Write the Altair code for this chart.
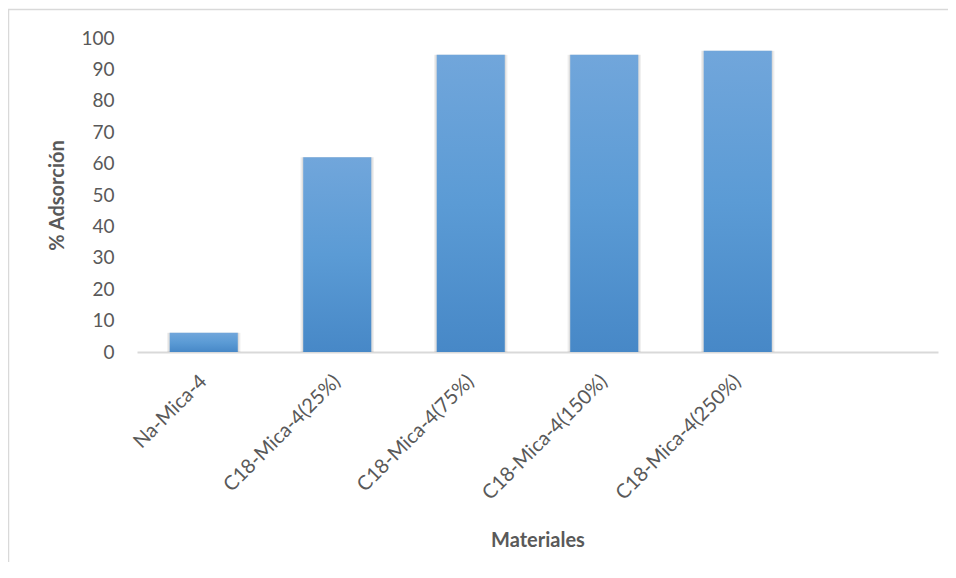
import altair as alt
import pandas as pd

categories = ["Na-Mica-4", "C18-Mica-4(25%)", "C18-Mica-4(75%)", "C18-Mica-4(150%)", "C18-Mica-4(250%)"]
values = [6.1, 62.0, 94.7, 94.7, 95.9]
domain = categories + [" "]
y_ticks = [0, 10, 20, 30, 40, 50, 60, 70, 80, 90, 100]

df = pd.DataFrame({"Materiales": categories, "Adsorcion": values})

W, H = 801, 314
FONT = "Lato"
GREY = "#595959"

x_enc = alt.X(
    "Materiales:N",
    scale=alt.Scale(domain=domain, paddingInner=0.49, paddingOuter=0.245),
    sort=domain,
    axis=alt.Axis(
        title="Materiales",
        titleFont=FONT, titleFontSize=20, titleFontWeight="bold", titleColor=GREY,
        titleY=188, titleBaseline="middle",
        labelAngle=-45, labelAlign="right", labelBaseline="middle",
        labelFont=FONT, labelFontSize=20, labelColor=GREY, labelPadding=26,
        ticks=False, grid=False,
        domainColor="#d9d9d9", domainWidth=2, zindex=0,
    ),
)
y_enc = alt.Y(
    "Adsorcion:Q",
    scale=alt.Scale(domain=[0, 100], nice=False),
    axis=alt.Axis(
        title="% Adsorción",
        titleFont=FONT, titleFontSize=20, titleFontWeight="bold", titleColor=GREY,
        titleX=-80, titleY=H / 2, titleBaseline="middle", titleAlign="center",
        values=y_ticks, labelFont=FONT, labelFontSize=19, labelColor=GREY,
        labelPadding=23, ticks=False, domain=False, grid=False,
    ),
)

border = alt.Chart(pd.DataFrame({"a": [0]})).mark_rect(
    fillOpacity=0, stroke="#d9d9d9", strokeWidth=1.5
).encode(
    x=alt.value(-128.5), x2=alt.value(W + 40),
    y=alt.value(-28.5), y2=alt.value(H + 300),
)

shadow = alt.Chart(df).mark_bar(
    width={"band": 1.08}, color="#000000", opacity=0.06
).encode(x=x_enc, y=y_enc)
shadow2 = alt.Chart(df).mark_bar(
    width={"band": 1.04}, color="#000000", opacity=0.08
).encode(x=x_enc, y=y_enc)

bars = alt.Chart(df).mark_bar(
    width={"band": 1.0},
    fill=alt.Gradient(
        gradient="linear", x1=0, x2=0, y1=0, y2=1,
        stops=[
            alt.GradientStop(color="#71a6db", offset=0),
            alt.GradientStop(color="#5b9bd5", offset=0.5),
            alt.GradientStop(color="#4788c7", offset=1),
        ],
    ),
).encode(x=x_enc, y=y_enc)

chart = alt.layer(border, shadow, shadow2, bars).properties(
    width=W, height=H,
    autosize=alt.AutoSizeParams(type="none"),
    padding={"left": 129, "top": 30, "right": 10, "bottom": 210},
).configure(background="white").configure_view(stroke=None, strokeWidth=0)

chart.save("out.html", embed_options={"renderer": "svg", "actions": False})
